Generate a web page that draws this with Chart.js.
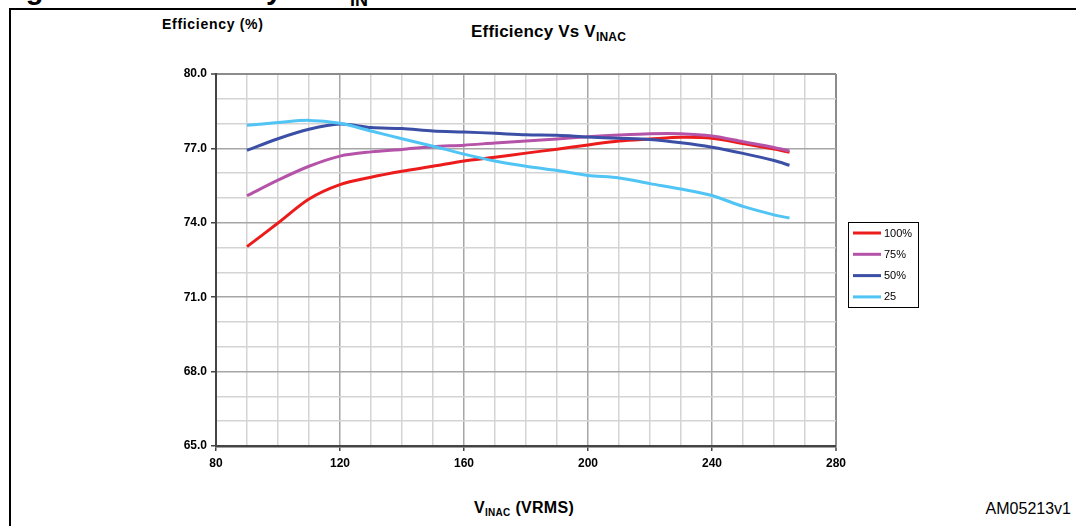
<!DOCTYPE html>
<html lang="en">
<head>
  <meta charset="UTF-8" />
  <title>Efficiency Vs VINAC</title>
  <style>
    html, body {
      margin: 0;
      padding: 0;
      width: 1076px;
      height: 526px;
      overflow: hidden;
      background: #fff;
      font-family: "Liberation Sans", Arial, sans-serif;
      color: #000;
    }
    .txt {
      position: absolute;
      white-space: nowrap;
      font-weight: bold;
    }
    #frame {
      position: absolute;
      left: 9px;
      top: 8px;
      width: 1200px;
      height: 700px;
      border-top: 2.5px solid #000;
      border-left: 2.5px solid #000;
    }
    #chart {
      position: absolute;
      left: 0;
      top: 0;
    }
  </style>
</head>
<body>
  <div class="txt" style="left:0; top:-25.5px; font-size:29px; line-height:29px;">Figure 10. Efficiency vs V</div>
  <div class="txt" style="left:350px; top:-9.2px; font-size:18px; line-height:18px;">IN</div>
  <div id="frame"></div>

  <div class="txt" style="left:162px; top:16.5px; font-size:14px; line-height:14px; letter-spacing:0.7px;">Efficiency (%)</div>
  <div class="txt" style="left:471px; top:23px; font-size:17px; line-height:17px; letter-spacing:0.2px;">Efficiency Vs V<span style="font-size:12px; vertical-align:-4px;">INAC</span></div>
  <div class="txt" style="left:474px; top:499.5px; font-size:16px; line-height:16px; letter-spacing:0.3px;">V<span style="font-size:10px; vertical-align:-3px;">INAC</span> (VRMS)</div>
  <div class="txt" style="right:5px; top:501px; font-size:16px; line-height:16px; font-weight:normal;">AM05213v1</div>

  <canvas id="chart" width="1076" height="526"></canvas>

  <script src="https://cdn.jsdelivr.net/npm/chart.js"></script>
  <script>
    // input voltage (VRMS)
    const volts = [90, 100, 110, 120, 130, 140, 150, 160, 170, 180, 190, 200, 210, 220, 230, 240, 250, 260, 265];

    // efficiency (%) per load
    const eff100 = [73.04, 73.99, 74.96, 75.54, 75.84, 76.08, 76.28, 76.49, 76.64, 76.81, 76.97, 77.14, 77.30, 77.38, 77.45, 77.41, 77.20, 76.97, 76.84];
    const eff75  = [75.09, 75.72, 76.28, 76.69, 76.86, 76.96, 77.07, 77.13, 77.22, 77.30, 77.38, 77.47, 77.54, 77.59, 77.59, 77.50, 77.27, 77.04, 76.90];
    const eff50  = [76.92, 77.39, 77.77, 77.98, 77.84, 77.80, 77.70, 77.66, 77.61, 77.55, 77.53, 77.46, 77.41, 77.36, 77.23, 77.05, 76.80, 76.51, 76.32];
    const eff25  = [77.93, 78.04, 78.13, 78.01, 77.70, 77.39, 77.09, 76.77, 76.49, 76.28, 76.11, 75.91, 75.81, 75.58, 75.36, 75.10, 74.66, 74.32, 74.19];

    const seriesNames = ['100%', '75%', '50%', '25'];
    const seriesColors = ['#ec1c1c', '#b553a8', '#3c4fa6', '#50c5f5'];
    const seriesData = [eff100, eff75, eff50, eff25];

    // labelled ticks
    const xLabelValues = [80, 120, 160, 200, 240, 280];
    const yLabelValues = [65, 68, 71, 74, 77, 80];

    const tickFont = { family: "'Liberation Sans', Arial, sans-serif", size: 12, weight: 'bold' };

    // legend drawn in a small framed box right of the plot
    const boxLegend = {
      id: 'boxLegend',
      afterDraw(chart) {
        const c = chart.ctx;
        c.save();
        c.fillStyle = '#fff';
        c.fillRect(848.5, 222.5, 70, 85);
        c.strokeStyle = '#000';
        c.lineWidth = 1;
        c.strokeRect(848.5, 222.5, 70, 85);
        c.font = "11px 'Liberation Sans', Arial, sans-serif";
        c.textBaseline = 'middle';
        chart.data.datasets.forEach((ds, i) => {
          const y = 233 + i * 21.3;
          c.strokeStyle = ds.borderColor;
          c.lineWidth = 3;
          c.beginPath();
          c.moveTo(853, y);
          c.lineTo(881, y);
          c.stroke();
          c.fillStyle = '#000';
          c.fillText(ds.label, 884, y + 0.5);
        });
        c.restore();
      }
    };

    const datasets = seriesNames.map((name, i) => ({
      label: name,
      data: volts.map((v, j) => ({ x: v, y: seriesData[i][j] })),
      borderColor: seriesColors[i],
      backgroundColor: seriesColors[i],
      borderWidth: 3,
      pointRadius: 0,
      tension: 0.3,
      fill: false,
      order: seriesNames.length - i
    }));

    new Chart(document.getElementById('chart').getContext('2d'), {
      type: 'line',
      data: { datasets },
      options: {
        responsive: false,
        animation: false,
        layout: { padding: { left: 0, top: 74, right: 240, bottom: 0 } },
        plugins: {
          legend: { display: false },
          tooltip: { enabled: false }
        },
        scales: {
          x: {
            type: 'linear',
            min: 80,
            max: 280,
            afterFit: s => { s.height = 80; },
            ticks: {
              stepSize: 10,
              autoSkip: false,
              maxRotation: 0,
              padding: 5,
              color: '#000',
              font: tickFont,
              callback: v => xLabelValues.includes(v) ? String(v) : ''
            },
            grid: {
              color: ctx => ctx.tick && ctx.tick.value === 280 ? '#8c8c8c' :
                (ctx.tick && xLabelValues.includes(ctx.tick.value) ? '#a6a6a6' : '#d4d4d4'),
              lineWidth: ctx => ctx.tick && ctx.tick.value === 280 ? 2 : 1.5,
              tickLength: 5,
              tickColor: ctx => ctx.tick && xLabelValues.includes(ctx.tick.value) ? '#444' : 'rgba(0,0,0,0)',
              tickWidth: 1.5
            },
            border: { color: '#444', width: 2.5 }
          },
          y: {
            min: 65,
            max: 80,
            afterFit: s => { s.width = 216; },
            ticks: {
              stepSize: 1,
              autoSkip: false,
              padding: 4,
              color: '#000',
              font: tickFont,
              callback: v => yLabelValues.includes(v) ? v.toFixed(1) : ''
            },
            grid: {
              color: ctx => ctx.tick && ctx.tick.value === 80 ? '#8c8c8c' :
                (ctx.tick && yLabelValues.includes(ctx.tick.value) ? '#a6a6a6' : '#d4d4d4'),
              lineWidth: ctx => ctx.tick && ctx.tick.value === 80 ? 2 : 1.5,
              tickLength: 5,
              tickColor: ctx => ctx.tick && yLabelValues.includes(ctx.tick.value) ? '#444' : 'rgba(0,0,0,0)',
              tickWidth: 1.5
            },
            border: { color: '#444', width: 2 }
          }
        }
      },
      plugins: [boxLegend]
    });
  </script>
</body>
</html>
